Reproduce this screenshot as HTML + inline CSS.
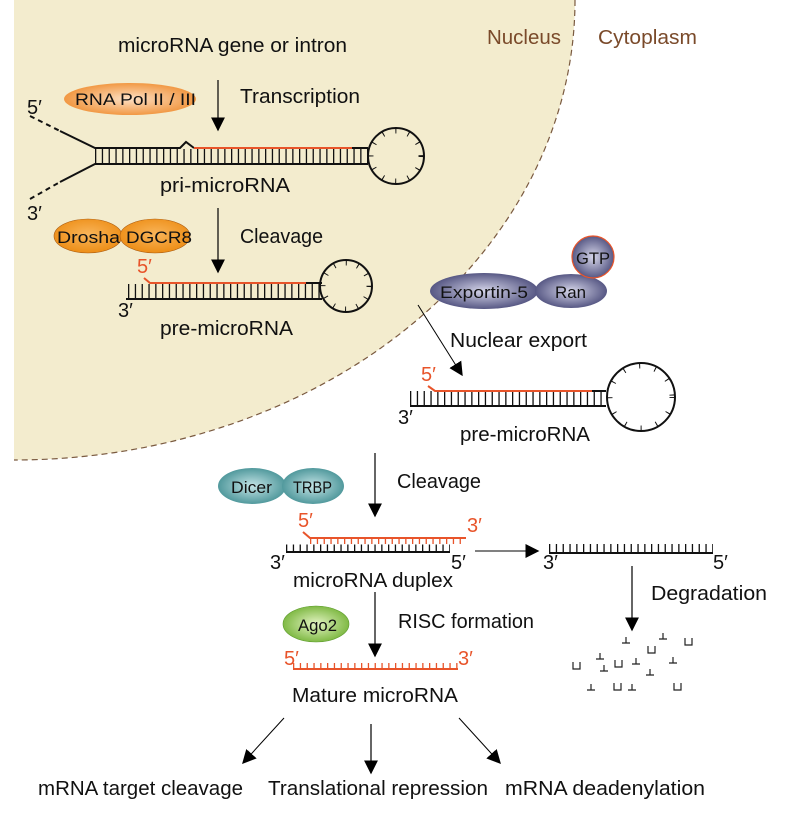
<!DOCTYPE html>
<html><head><meta charset="utf-8"><style>
html,body{margin:0;padding:0;background:#fff}
svg{display:block}
text{font-family:"Liberation Sans",sans-serif;font-size:20px;fill:#111}
text.s{font-size:17px}
.o{fill:#e8542a}
</style></head><body>
<svg width="793" height="814" viewBox="0 0 793 814" xmlns="http://www.w3.org/2000/svg">
<defs>
<radialGradient id="og" cx="50%" cy="50%" r="60%"><stop offset="0" stop-color="#fde0c4"/><stop offset="1" stop-color="#ef8a2a"/></radialGradient>
<radialGradient id="og2" cx="50%" cy="45%" r="60%"><stop offset="0" stop-color="#f9b55a"/><stop offset="1" stop-color="#ec8a10"/></radialGradient>
<radialGradient id="bg" cx="50%" cy="50%" r="60%"><stop offset="0" stop-color="#d6d6ea"/><stop offset="1" stop-color="#3e3f70"/></radialGradient>
<radialGradient id="tg" cx="50%" cy="50%" r="60%"><stop offset="0" stop-color="#c4e4e6"/><stop offset="1" stop-color="#3a8a8e"/></radialGradient>
<radialGradient id="gg" cx="50%" cy="50%" r="60%"><stop offset="0" stop-color="#e4f4c4"/><stop offset="1" stop-color="#6cae2c"/></radialGradient>
<marker id="ar" viewBox="0 0 10 10" refX="9" refY="5" markerWidth="14" markerHeight="14" markerUnits="userSpaceOnUse" orient="auto"><path d="M0,0L10,5L0,10z" fill="#000"/></marker>
</defs>
<path d="M14,0 L575,0 A561,460 0 0 1 14,460 Z" fill="#f3ecce"/>
<path d="M575,0 A561,460 0 0 1 14,460" fill="none" stroke="#7a5a40" stroke-width="1.2" stroke-dasharray="6 4"/>
<text x="487" y="44" style="fill:#7a4a2a" textLength="74" lengthAdjust="spacingAndGlyphs">Nucleus</text>
<text x="598" y="44" style="fill:#7a4a2a" textLength="99" lengthAdjust="spacingAndGlyphs">Cytoplasm</text>

<text x="118" y="52" textLength="229" lengthAdjust="spacingAndGlyphs">microRNA gene or intron</text>
<ellipse cx="130" cy="99" rx="66" ry="16" fill="url(#og)"/>
<text class="s" x="75" y="105" textLength="121" lengthAdjust="spacingAndGlyphs">RNA Pol II / III</text>
<line x1="218" y1="80" x2="218" y2="130" stroke="#000" stroke-width="1.2" marker-end="url(#ar)"/>
<text x="240" y="103" textLength="120" lengthAdjust="spacingAndGlyphs">Transcription</text>

<g stroke="#111" fill="none" stroke-width="2">
<path d="M30,116 L60,131" stroke-dasharray="5 4"/>
<path d="M60,131 L95,148 L180,148 L186,142 L194,148"/>
<path d="M30,199 L60,182" stroke-dasharray="5 4"/>
<path d="M60,182 L95,164 L368,164"/>
<path d="M352,148 L368,148"/>
<line x1="95" y1="156" x2="368" y2="156" stroke-width="14" stroke-dasharray="1.3 5.5"/>
<circle cx="396" cy="156" r="28"/>
<circle cx="396" cy="156" r="25" stroke-width="5" stroke-dasharray="1 12"/>
</g>
<path d="M194,148 L352,148" stroke="#e8542a" stroke-width="2"/>
<text x="160" y="192" textLength="130" lengthAdjust="spacingAndGlyphs">pri-microRNA</text>
<text x="27" y="114">5′</text>
<text x="27" y="220">3′</text>

<ellipse cx="88" cy="236" rx="34" ry="17" fill="url(#og2)" stroke="#a85a10" stroke-width="0.6"/>
<ellipse cx="155" cy="236" rx="35" ry="17" fill="url(#og2)" stroke="#a85a10" stroke-width="0.6"/>
<text class="s" x="57" y="243" textLength="63" lengthAdjust="spacingAndGlyphs">Drosha</text>
<text class="s" x="126" y="243" textLength="66" lengthAdjust="spacingAndGlyphs">DGCR8</text>
<line x1="218" y1="208" x2="218" y2="272" stroke="#000" stroke-width="1.2" marker-end="url(#ar)"/>
<text x="240" y="243" textLength="83" lengthAdjust="spacingAndGlyphs">Cleavage</text>

<g stroke="#111" fill="none" stroke-width="2">
<path d="M126,299 L322,299"/>
<path d="M306,283 L322,283"/>
<line x1="128" y1="291" x2="322" y2="291" stroke-width="14" stroke-dasharray="1.3 5.5"/>
<circle cx="346" cy="286" r="26"/>
<circle cx="346" cy="286" r="23" stroke-width="5" stroke-dasharray="1 11"/>
</g>
<path d="M144,278 L150,283 L306,283" stroke="#e8542a" stroke-width="2" fill="none"/>
<text x="137" y="273" class="o">5′</text>
<text x="118" y="317">3′</text>
<text x="160" y="335" textLength="133" lengthAdjust="spacingAndGlyphs">pre-microRNA</text>

<ellipse cx="484" cy="291" rx="54" ry="18" fill="url(#bg)"/>
<ellipse cx="571" cy="291" rx="36" ry="17" fill="url(#bg)"/>
<circle cx="593" cy="257" r="21" fill="url(#bg)" stroke="#e8542a" stroke-width="1.2"/>
<text class="s" x="440" y="298" textLength="88" lengthAdjust="spacingAndGlyphs">Exportin-5</text>
<text class="s" x="555" y="298" textLength="31" lengthAdjust="spacingAndGlyphs">Ran</text>
<text class="s" x="576" y="264" textLength="34" lengthAdjust="spacingAndGlyphs">GTP</text>
<line x1="418" y1="305" x2="462" y2="375" stroke="#000" stroke-width="1" marker-end="url(#ar)"/>
<text x="450" y="347" textLength="137" lengthAdjust="spacingAndGlyphs">Nuclear export</text>

<g stroke="#111" fill="none" stroke-width="2">
<path d="M410,406 L606,406"/>
<path d="M592,391 L606,391"/>
<line x1="410" y1="398" x2="606" y2="398" stroke-width="14" stroke-dasharray="1.3 5.5"/>
<circle cx="641" cy="397" r="34"/>
<circle cx="641" cy="397" r="31" stroke-width="5" stroke-dasharray="1 15"/>
</g>
<path d="M428,386 L435,391 L592,391" stroke="#e8542a" stroke-width="2" fill="none"/>
<text x="421" y="381" class="o">5′</text>
<text x="398" y="424">3′</text>
<text x="460" y="441" textLength="130" lengthAdjust="spacingAndGlyphs">pre-microRNA</text>

<ellipse cx="252" cy="486" rx="34" ry="18" fill="url(#tg)"/>
<ellipse cx="313" cy="486" rx="31" ry="18" fill="url(#tg)"/>
<text class="s" x="231" y="493" textLength="41" lengthAdjust="spacingAndGlyphs">Dicer</text>
<text class="s" x="293" y="493" textLength="39" lengthAdjust="spacingAndGlyphs">TRBP</text>
<line x1="375" y1="453" x2="375" y2="516" stroke="#000" stroke-width="1.2" marker-end="url(#ar)"/>
<text x="397" y="488" textLength="84" lengthAdjust="spacingAndGlyphs">Cleavage</text>

<path d="M286,552 L450,552" stroke="#111" stroke-width="2"/>
<line x1="286" y1="548" x2="450" y2="548" stroke="#111" stroke-width="7" stroke-dasharray="1.3 5.5"/>
<path d="M303,532 L310,538 L466,538" stroke="#e8542a" stroke-width="2" fill="none"/>
<line x1="310" y1="541" x2="466" y2="541" stroke="#e8542a" stroke-width="6" stroke-dasharray="1.3 5.5"/>
<text x="298" y="527" class="o">5′</text>
<text x="467" y="532" class="o">3′</text>
<text x="270" y="569">3′</text>
<text x="451" y="569">5′</text>
<text x="293" y="587" textLength="160" lengthAdjust="spacingAndGlyphs">microRNA duplex</text>
<line x1="475" y1="551" x2="538" y2="551" stroke="#000" stroke-width="1" marker-end="url(#ar)"/>
<path d="M549,553 L713,553" stroke="#111" stroke-width="2"/>
<line x1="549" y1="548" x2="713" y2="548" stroke="#111" stroke-width="8" stroke-dasharray="1.3 5.5"/>
<text x="543" y="569">3′</text>
<text x="713" y="569">5′</text>
<line x1="632" y1="566" x2="632" y2="630" stroke="#000" stroke-width="1.2" marker-end="url(#ar)"/>
<text x="651" y="600" textLength="116" lengthAdjust="spacingAndGlyphs">Degradation</text>
<g stroke="#222" stroke-width="1.2" fill="none">
<path d="M626,637v6M622,643h8 M663,633v6M659,639h8 M600,653v6M596,659h8 M636,658v6M632,664h8 M673,657v6M669,663h8 M604,665v6M600,671h8 M650,669v6M646,675h8 M591,684v6M587,690h8 M632,684v6M628,690h8"/>
<path d="M685,638v7h7v-7 M648,646v7h7v-7 M573,662v7h7v-7 M615,660v7h7v-7 M614,683v7h7v-7 M674,683v7h7v-7"/>
</g>

<ellipse cx="316" cy="624" rx="33" ry="18" fill="url(#gg)" stroke="#5a9a2a" stroke-width="0.6"/>
<text class="s" x="298" y="631" textLength="39" lengthAdjust="spacingAndGlyphs">Ago2</text>
<line x1="375" y1="592" x2="375" y2="656" stroke="#000" stroke-width="1.2" marker-end="url(#ar)"/>
<text x="398" y="628" textLength="136" lengthAdjust="spacingAndGlyphs">RISC formation</text>
<path d="M293,669 L458,669" stroke="#e8542a" stroke-width="2"/>
<line x1="293" y1="666" x2="458" y2="666" stroke="#e8542a" stroke-width="6" stroke-dasharray="1.3 5.5"/>
<text x="284" y="665" class="o">5′</text>
<text x="458" y="665" class="o">3′</text>
<text x="292" y="702" textLength="166" lengthAdjust="spacingAndGlyphs">Mature microRNA</text>

<line x1="284" y1="718" x2="243" y2="763" stroke="#000" stroke-width="1" marker-end="url(#ar)"/>
<line x1="371" y1="724" x2="371" y2="773" stroke="#000" stroke-width="1.2" marker-end="url(#ar)"/>
<line x1="459" y1="718" x2="500" y2="763" stroke="#000" stroke-width="1" marker-end="url(#ar)"/>
<text x="38" y="795" textLength="205" lengthAdjust="spacingAndGlyphs">mRNA target cleavage</text>
<text x="268" y="795" textLength="220" lengthAdjust="spacingAndGlyphs">Translational repression</text>
<text x="505" y="795" textLength="200" lengthAdjust="spacingAndGlyphs">mRNA deadenylation</text>
</svg>
</body></html>
